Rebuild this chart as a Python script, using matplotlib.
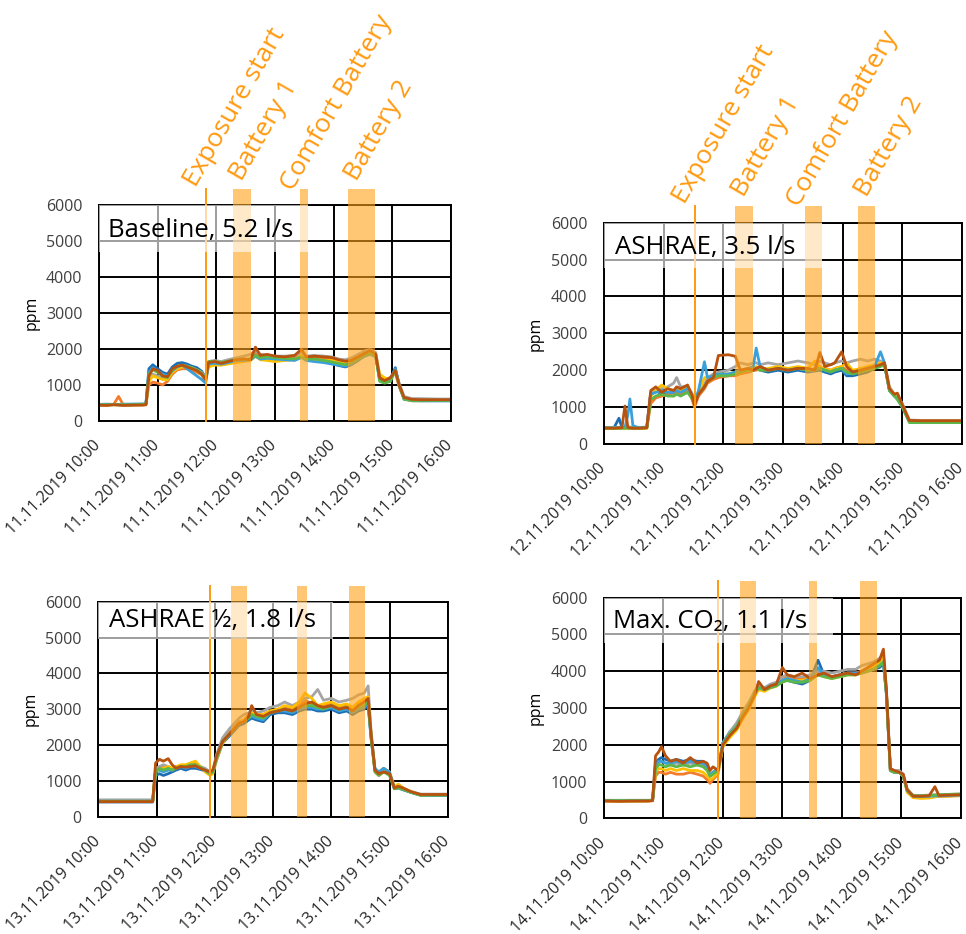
import matplotlib
matplotlib.use("Agg")
import matplotlib.pyplot as plt
from matplotlib.patches import Rectangle
from matplotlib.transforms import ScaledTranslation
import numpy as np

plt.rcParams['font.family'] = ['Open Sans', 'DejaVu Sans']

# sensor colours, drawn in this order (last one ends up on top)
sensor_names = ["blue", "orange", "gray", "yellow", "lightblue", "green", "brown"]
sensor_colors = ["#1D6FB5", "#F37B2A", "#A5A5A5", "#FFC000", "#3AA0DC", "#5DB84A", "#B8520F"]

hour_ticks = [10, 11, 12, 13, 14, 15, 16]

# ---------------- 11.11.2019, Baseline ----------------
t1 = [0, 8, 15, 20, 25, 35, 45, 48, 51, 55, 60, 65, 70, 75, 80, 85, 90, 95, 100, 105,
      109, 112, 118, 125, 132, 140, 148, 155, 160, 165, 172, 180, 190, 200, 207, 212, 220, 230, 238, 245,
      252, 258, 265, 272, 277, 283, 287, 292, 298, 303, 307, 312, 320, 330, 345, 360]
blue1 = [440, 450, 460, 450, 450, 460, 460, 470, 1450, 1560, 1450, 1350, 1300, 1500, 1600, 1620, 1580, 1520, 1480, 1380,
         1200, 1600, 1620, 1620, 1650, 1700, 1700, 1720, 1850, 1760, 1770, 1750, 1720, 1700, 1780, 1700, 1680, 1650, 1600, 1540,
         1500, 1560, 1680, 1820, 1880, 1800, 1150, 1100, 1150, 1480, 980, 620, 560, 560, 560, 560]
orange1 = [450, 440, 460, 680, 440, 440, 450, 450, 1000, 1080, 1050, 1000, 1100, 1300, 1420, 1450, 1450, 1400, 1350, 1280,
           1100, 1550, 1580, 1560, 1600, 1650, 1680, 1700, 1900, 1780, 1800, 1760, 1750, 1780, 1900, 1750, 1760, 1720, 1700, 1680,
           1640, 1700, 1800, 1900, 1920, 1820, 1200, 1150, 1200, 1350, 950, 620, 580, 570, 580, 580]
gray1 = [460, 470, 460, 460, 470, 460, 470, 480, 1150, 1300, 1250, 1200, 1150, 1400, 1500, 1550, 1520, 1480, 1420, 1350,
         1200, 1650, 1680, 1650, 1700, 1750, 1800, 1850, 1950, 1850, 1820, 1800, 1800, 1820, 1900, 1800, 1820, 1800, 1780, 1720,
         1700, 1750, 1850, 1950, 1980, 1900, 1250, 1150, 1200, 1400, 1050, 680, 620, 620, 610, 610]
yellow1 = [450, 450, 450, 450, 450, 450, 450, 460, 1100, 1250, 1200, 1150, 1150, 1350, 1450, 1500, 1480, 1450, 1400, 1300,
           1150, 1500, 1550, 1550, 1580, 1620, 1650, 1680, 1800, 1700, 1680, 1650, 1680, 1700, 1820, 1680, 1700, 1680, 1680, 1650,
           1620, 1680, 1780, 1850, 1900, 1850, 1300, 1200, 1150, 1350, 1000, 600, 560, 560, 570, 570]
lightblue1 = [460, 460, 460, 460, 460, 470, 470, 480, 1350, 1480, 1380, 1300, 1250, 1400, 1500, 1550, 1450, 1350, 1250, 1150,
              1050, 1580, 1600, 1580, 1620, 1680, 1680, 1700, 1800, 1720, 1740, 1720, 1700, 1680, 1760, 1680, 1650, 1620, 1580, 1550,
              1520, 1580, 1700, 1800, 1850, 1780, 1180, 1100, 1150, 1450, 1000, 600, 570, 560, 560, 560]
green1 = [450, 450, 450, 450, 450, 450, 460, 460, 1300, 1420, 1350, 1250, 1200, 1420, 1520, 1550, 1520, 1480, 1420, 1330,
          1180, 1650, 1650, 1620, 1660, 1700, 1720, 1720, 1820, 1760, 1780, 1760, 1740, 1720, 1780, 1720, 1720, 1680, 1640, 1600,
          1560, 1620, 1720, 1840, 1880, 1800, 1100, 1050, 1100, 1400, 980, 610, 570, 570, 570, 570]
brown1 = [440, 430, 450, 440, 430, 440, 440, 450, 1250, 1450, 1400, 1250, 1230, 1450, 1520, 1550, 1500, 1450, 1400, 1300,
          1150, 1620, 1650, 1600, 1650, 1700, 1720, 1700, 2050, 1820, 1850, 1800, 1780, 1820, 1990, 1780, 1800, 1780, 1760, 1700,
          1660, 1680, 1780, 1880, 1960, 1850, 1200, 1120, 1200, 1400, 1000, 650, 600, 590, 590, 590]

# ---------------- 12.11.2019, ASHRAE ----------------
t2 = [0, 10, 15, 18, 21, 24, 26, 29, 35, 43, 47, 52, 58, 64, 70, 73, 77, 84, 88, 91,
      95, 101, 104, 110, 115, 125, 132, 137, 145, 150, 153, 157, 165, 175, 185, 195, 205, 212, 217, 222,
      228, 232, 239, 244, 250, 258, 265, 272, 278, 282, 287, 292, 295, 300, 307, 320, 340, 360]
blue2 = [440, 440, 700, 450, 440, 440, 440, 440, 440, 450, 1400, 1450, 1350, 1400, 1400, 1450, 1400, 1450, 1300, 1150,
         1400, 1600, 1750, 1800, 1850, 1850, 1900, 1950, 1950, 2000, 2050, 2000, 1950, 2000, 1950, 2000, 1950, 1980, 2000, 1950,
         1900, 1950, 2000, 1850, 1850, 1900, 1950, 2050, 2150, 2150, 1450, 1300, 1250, 1000, 620, 610, 610, 610]
orange2 = [420, 420, 420, 430, 430, 430, 420, 420, 420, 430, 1100, 1250, 1300, 1350, 1300, 1400, 1350, 1450, 1250, 1000,
           1300, 1500, 1650, 1750, 1800, 1850, 1850, 1900, 1950, 2000, 2000, 2050, 2000, 2050, 2050, 2050, 2000, 2050, 2100, 2050,
           2000, 2050, 2100, 2000, 1950, 2000, 2050, 2100, 2150, 2150, 1500, 1300, 1300, 1050, 620, 620, 620, 620]
gray2 = [450, 450, 450, 460, 460, 460, 460, 450, 450, 460, 1400, 1500, 1500, 1550, 1650, 1800, 1550, 1550, 1400, 1200,
         1400, 1600, 1800, 1900, 1950, 2000, 2100, 2200, 2150, 2200, 2200, 2150, 2200, 2150, 2200, 2250, 2200, 2150, 2250, 2200,
         2150, 2200, 2250, 2200, 2250, 2300, 2250, 2300, 2250, 2200, 1550, 1350, 1300, 1100, 650, 640, 640, 640]
yellow2 = [430, 430, 430, 430, 430, 430, 430, 430, 430, 430, 1300, 1450, 1600, 1500, 1450, 1500, 1450, 1500, 1300, 1100,
           1400, 1800, 1800, 1850, 1900, 1900, 1950, 2000, 2000, 2050, 2100, 2000, 2050, 2100, 2050, 2100, 2050, 2250, 2100, 2050,
           2000, 2050, 2100, 2200, 2000, 2050, 2100, 2150, 2200, 2200, 1500, 1350, 1300, 1050, 620, 620, 620, 620]
lightblue2 = [440, 440, 440, 440, 440, 800, 1220, 500, 440, 450, 1350, 1400, 1450, 1400, 1400, 1450, 1400, 1500, 1350, 1150,
              1450, 2230, 1800, 1850, 1900, 1900, 1950, 2000, 2050, 2100, 2600, 2100, 2000, 2050, 2000, 2050, 2000, 2000, 2050, 2000,
              1950, 2000, 2050, 1900, 1950, 2000, 2050, 2100, 2500, 2200, 1450, 1300, 1250, 1000, 620, 610, 610, 610]
green2 = [430, 430, 430, 430, 430, 430, 430, 430, 430, 440, 1200, 1300, 1350, 1300, 1300, 1350, 1300, 1400, 1250, 1100,
          1350, 1550, 1700, 1800, 1850, 1850, 1900, 1950, 2000, 2000, 2050, 2000, 2000, 2050, 2000, 2050, 2000, 2000, 2050, 2000,
          1950, 2000, 2050, 1950, 1900, 1950, 2000, 2050, 2100, 2150, 1450, 1300, 1200, 1000, 580, 580, 580, 580]
brown2 = [430, 430, 440, 440, 1030, 450, 440, 430, 430, 440, 1450, 1550, 1400, 1500, 1450, 1550, 1500, 1600, 1350, 1050,
          1350, 1550, 1700, 1800, 2400, 2420, 2380, 2000, 2050, 2000, 2050, 2100, 2000, 2050, 2000, 2050, 2050, 2000, 2480, 2100,
          2150, 2200, 2500, 2100, 1950, 2000, 2050, 2100, 2150, 2200, 1500, 1350, 1380, 1060, 640, 630, 630, 630]

# ---------------- 13.11.2019, ASHRAE 1/2 ----------------
t3 = [0, 15, 30, 45, 56, 59, 63, 67, 72, 76, 80, 85, 90, 95, 100, 105, 110, 115, 118, 122,
      128, 135, 140, 145, 150, 155, 158, 163, 170, 177, 185, 192, 200, 207, 213, 220, 226, 232, 240, 248,
      256, 262, 268, 274, 278, 281, 285, 289, 294, 300, 305, 309, 314, 322, 332, 345, 360]
blue3 = [410, 410, 410, 410, 410, 1150, 1200, 1150, 1200, 1250, 1300, 1350, 1300, 1350, 1350, 1320, 1280, 1200, 1250, 1600,
         2050, 2250, 2400, 2550, 2600, 2700, 2750, 2700, 2650, 2850, 2900, 2900, 2850, 2950, 3000, 3000, 2950, 2950, 3000, 2900,
         2950, 2850, 2950, 3000, 3100, 2200, 1300, 1200, 1350, 1200, 780, 800, 750, 680, 600, 600, 600]
orange3 = [420, 420, 420, 420, 420, 1300, 1350, 1400, 1350, 1300, 1350, 1400, 1400, 1450, 1500, 1400, 1300, 1200, 1250, 1650,
           2100, 2350, 2500, 2650, 2700, 2850, 2900, 2850, 2850, 2950, 3000, 3050, 3000, 3100, 3250, 3150, 3100, 3100, 3150, 3050,
           3100, 3000, 3150, 3250, 3350, 2300, 1250, 1150, 1250, 1200, 800, 900, 800, 700, 620, 620, 620]
gray3 = [470, 470, 470, 470, 470, 1350, 1400, 1450, 1400, 1350, 1400, 1400, 1400, 1450, 1450, 1400, 1350, 1250, 1300, 1750,
         2200, 2450, 2600, 2750, 2850, 2900, 2950, 2900, 2950, 3050, 3100, 3200, 3100, 3200, 3300, 3350, 3550, 3250, 3300, 3200,
         3250, 3300, 3400, 3450, 3650, 2400, 1300, 1200, 1250, 1200, 820, 850, 780, 700, 630, 630, 630]
yellow3 = [420, 420, 420, 420, 420, 1250, 1300, 1350, 1400, 1350, 1400, 1450, 1450, 1500, 1550, 1400, 1250, 1150, 1200, 1600,
           2050, 2300, 2450, 2600, 2700, 2800, 2900, 2850, 2850, 2950, 3000, 3100, 3050, 3200, 3450, 3300, 3100, 3150, 3200, 3100,
           3150, 3050, 3200, 3300, 3350, 2300, 1300, 1250, 1350, 1250, 850, 900, 800, 700, 600, 600, 600]
lightblue3 = [430, 430, 430, 430, 430, 1300, 1300, 1250, 1300, 1300, 1350, 1400, 1350, 1400, 1400, 1350, 1300, 1200, 1250, 1650,
              2100, 2300, 2450, 2600, 2650, 2750, 2800, 2750, 2700, 2900, 2950, 2950, 2900, 3000, 3050, 3050, 3000, 3000, 3050, 2950,
              3000, 2900, 3000, 3050, 3150, 2250, 1350, 1250, 1350, 1250, 800, 820, 770, 680, 600, 590, 590]
green3 = [430, 430, 430, 430, 430, 1250, 1350, 1300, 1350, 1300, 1350, 1400, 1400, 1450, 1450, 1380, 1300, 1200, 1250, 1650,
          2100, 2300, 2450, 2600, 2650, 2750, 2850, 2800, 2750, 2900, 2950, 3000, 2950, 3050, 3100, 3100, 3050, 3000, 3100, 3000,
          3050, 2950, 3050, 3100, 3200, 2200, 1250, 1150, 1250, 1150, 780, 800, 760, 680, 600, 600, 600]
brown3 = [420, 420, 420, 420, 420, 1500, 1600, 1550, 1620, 1450, 1350, 1400, 1380, 1400, 1420, 1350, 1300, 1250, 1300, 1700,
          2100, 2300, 2450, 2600, 2650, 2800, 3100, 2850, 2800, 2900, 2950, 3000, 2950, 3050, 3150, 3200, 3100, 3050, 3100, 3000,
          3050, 2950, 3100, 3200, 3300, 2300, 1300, 1200, 1250, 1200, 800, 850, 800, 700, 620, 620, 620]

# ---------------- 14.11.2019, Max. CO2 ----------------
t4 = [0, 15, 30, 45, 49, 52, 55, 58, 62, 67, 73, 80, 87, 94, 100, 104, 107, 110, 115, 120,
      127, 134, 140, 146, 152, 156, 162, 168, 174, 180, 185, 192, 200, 208, 216, 222, 230, 238, 246, 254,
      260, 266, 272, 278, 282, 285, 289, 293, 298, 302, 306, 312, 320, 328, 334, 338, 348, 360]
blue4 = [480, 480, 470, 480, 490, 1500, 1600, 1650, 1600, 1550, 1600, 1550, 1600, 1550, 1550, 1450, 1150, 1250, 1350, 2050,
         2350, 2550, 2850, 3100, 3450, 3600, 3550, 3600, 3650, 3750, 3750, 3700, 3650, 3750, 4300, 3900, 3850, 3900, 3950, 3950,
         3950, 4000, 4050, 4100, 4200, 3400, 1300, 1250, 1250, 1150, 750, 590, 580, 590, 600, 600, 610, 620]
orange4 = [470, 470, 470, 470, 480, 1150, 1250, 1250, 1200, 1250, 1200, 1200, 1250, 1200, 1150, 1050, 950, 1050, 1200, 1950,
           2250, 2450, 2750, 3000, 3350, 3550, 3500, 3550, 3600, 3800, 3850, 3800, 3800, 3850, 3950, 3900, 3850, 3900, 3950, 3950,
           4000, 4050, 4150, 4250, 4400, 3400, 1300, 1250, 1250, 1150, 750, 580, 560, 570, 600, 600, 610, 620]
gray4 = [490, 490, 490, 490, 500, 1400, 1500, 1550, 1500, 1450, 1500, 1450, 1500, 1450, 1450, 1350, 1150, 1250, 1300, 2050,
         2350, 2600, 2900, 3150, 3450, 3600, 3550, 3650, 3700, 3850, 3900, 3850, 3850, 3900, 4000, 4000, 3950, 4000, 4050, 4050,
         4150, 4200, 4250, 4350, 4450, 3500, 1350, 1300, 1300, 1200, 800, 620, 620, 630, 640, 640, 650, 660]
yellow4 = [470, 470, 470, 470, 480, 1250, 1350, 1350, 1300, 1350, 1300, 1350, 1300, 1300, 1250, 1150, 1050, 1100, 1250, 1950,
           2200, 2400, 2700, 2950, 3300, 3500, 3450, 3550, 3600, 3750, 3800, 3750, 3750, 3800, 3900, 3850, 3800, 3850, 3900, 3900,
           3950, 4000, 4100, 4250, 4400, 3450, 1300, 1250, 1250, 1150, 700, 560, 540, 550, 580, 600, 600, 610]
lightblue4 = [480, 480, 480, 480, 490, 1450, 1550, 1550, 1500, 1500, 1550, 1500, 1550, 1500, 1500, 1400, 1150, 1250, 1300, 2050,
              2300, 2500, 2800, 3050, 3400, 3550, 3500, 3600, 3650, 3750, 3800, 3750, 3700, 3800, 4100, 3900, 3850, 3900, 3950, 3950,
              3950, 4000, 4050, 4150, 4250, 3400, 1300, 1250, 1250, 1150, 750, 600, 590, 600, 610, 610, 620, 630]
green4 = [480, 480, 480, 480, 490, 1350, 1450, 1450, 1400, 1450, 1400, 1450, 1400, 1450, 1400, 1300, 1150, 1200, 1300, 2000,
          2300, 2500, 2800, 3050, 3400, 3550, 3500, 3550, 3600, 3700, 3750, 3700, 3700, 3750, 3900, 3850, 3800, 3850, 3900, 3900,
          3950, 4000, 4050, 4150, 4250, 3400, 1300, 1250, 1250, 1150, 760, 620, 610, 620, 630, 640, 650, 660]
brown4 = [470, 460, 470, 470, 480, 1700, 1800, 1950, 1700, 1550, 1600, 1500, 1650, 1500, 1550, 1500, 1300, 1400, 1300, 2000,
          2250, 2450, 2750, 3000, 3350, 3720, 3500, 3600, 3650, 4100, 3900, 3850, 3950, 3800, 3900, 3950, 3850, 3900, 3950, 3900,
          4000, 4100, 4200, 4300, 4600, 3500, 1350, 1300, 1250, 1200, 780, 600, 600, 610, 860, 620, 630, 640]

dates = ["11.11.2019", "12.11.2019", "13.11.2019", "14.11.2019"]
titles = ["Baseline, 5.2 l/s", "ASHRAE, 3.5 l/s", "ASHRAE \u00bd, 1.8 l/s", "Max. CO\u2082, 1.1 l/s"]

# exposure start and the battery periods, in hours of the day
exposure = [11.83, 11.52, 11.92, 11.92]
battery1 = [(12.28, 12.59), (12.19, 12.49), (12.27, 12.55), (12.28, 12.56)]
comfort = [(13.42, 13.57), (13.36, 13.65), (13.42, 13.58), (13.44, 13.58)]
battery2 = [(14.24, 14.71), (14.25, 14.54), (14.31, 14.58), (14.31, 14.60)]

# white title box: right edge (hours) and lower edge (ppm)
box_right = [13.57, 13.65, 14.03, 13.86]
box_bottom = [4700, 4770, 4950, 4776]
title_pos = [(10.15, 5110), (10.19, 5160), (10.18, 5280), (10.15, 5170)]

event_names = ["Exposure start", "Battery 1", "Comfort Battery", "Battery 2"]
# baseline start of the rotated event labels (top row only)
event_pos = [
    [(11.65, 6460), (12.44, 6650), (13.30, 6370), (14.40, 6650)],
    [(11.36, 6490), (12.35, 6680), (13.26, 6400), (14.40, 6680)],
]

series = [
    (t1, [blue1, orange1, gray1, yellow1, lightblue1, green1, brown1]),
    (t2, [blue2, orange2, gray2, yellow2, lightblue2, green2, brown2]),
    (t3, [blue3, orange3, gray3, yellow3, lightblue3, green3, brown3]),
    (t4, [blue4, orange4, gray4, yellow4, lightblue4, green4, brown4]),
]

axes_rect = [
    [0.1025, 0.5493, 0.3644, 0.2313],
    [0.6253, 0.5246, 0.3706, 0.2370],
    [0.1018, 0.1256, 0.3617, 0.2302],
    [0.6253, 0.1239, 0.3692, 0.2362],
]

band_color = "#FFA216"
event_color = "#FF9A10"
band_top = 6440

fig = plt.figure(figsize=(9.66, 9.34), dpi=100)
label_shift = ScaledTranslation(-6 / 100, 0, fig.dpi_scale_trans)

for i in range(4):
    ax = fig.add_axes(axes_rect[i])
    t, vals = series[i]
    hours = 10 + np.array(t) / 60.0
    for v, c in zip(vals, sensor_colors):
        ax.plot(hours, v, color=c, lw=2.0, zorder=2, solid_joinstyle="round")

    for x0, x1 in [battery1[i], comfort[i], battery2[i]]:
        ax.add_patch(Rectangle((x0, 0), x1 - x0, band_top, facecolor=band_color,
                               alpha=0.6, lw=0, zorder=3, clip_on=False))
    ax.plot([exposure[i], exposure[i]], [0, band_top], color=event_color, lw=1.4,
            zorder=3, clip_on=False)

    ax.add_patch(Rectangle((10, box_bottom[i]), box_right[i] - 10, 6000 - box_bottom[i],
                           facecolor="white", alpha=0.62, lw=0, zorder=4))
    ax.text(title_pos[i][0], title_pos[i][1], titles[i], fontsize=18.5, color="black",
            ha="left", va="baseline", zorder=5)

    ax.set_xlim(10, 16)
    ax.set_ylim(0, 6000)
    ax.set_yticks(range(0, 6001, 1000))
    ax.set_xticks(hour_ticks)
    ax.tick_params(axis="both", length=0, labelsize=11.5)
    ax.tick_params(axis="x", pad=12, labelcolor="#262626")
    ax.tick_params(axis="y", pad=12, labelcolor="#404040")
    ax.set_xticklabels([f"{dates[i]} {h}:00" for h in hour_ticks], rotation=45,
                       ha="right", rotation_mode="anchor")
    # nudge the date labels a little to the left of their ticks
    for tick in ax.xaxis.get_major_ticks():
        tick.label1.set_transform(tick.label1.get_transform() + label_shift)
    ax.set_axisbelow(True)
    ax.grid(True, color="black", lw=1.4)
    for sp in ax.spines.values():
        sp.set_color("black")
        sp.set_linewidth(1.4)
    ax.set_ylabel("ppm", fontsize=11.5)
    ax.yaxis.set_label_coords(-0.17, 0.5)

    if i < 2:
        for name, (x, y) in zip(event_names, event_pos[i]):
            ax.text(x, y, name, fontsize=19, color=event_color, rotation=60,
                    rotation_mode="anchor", ha="left", va="baseline", clip_on=False)

fig.savefig("out.png", dpi=100)
